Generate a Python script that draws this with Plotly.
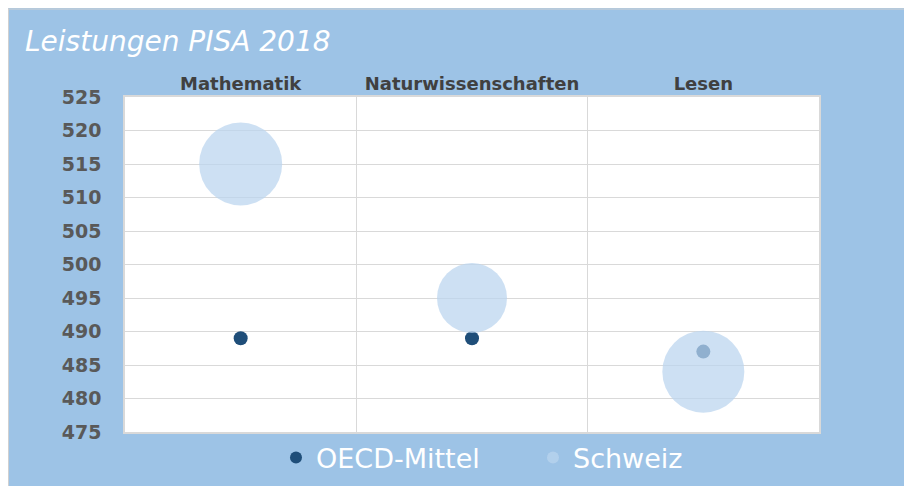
import plotly.graph_objects as go

categories = ["Mathematik", "Naturwissenschaften", "Lesen"]
oecd_values = [489, 489, 487]
schweiz_values = [515, 495, 484]
schweiz_bubble = [83, 70, 82]
y_ticks = [475, 480, 485, 490, 495, 500, 505, 510, 515, 520, 525]

x_pos = [i + 0.5 for i in range(len(categories))]

BLUE = "#9DC3E6"
GRID = "#D9D9D9"

fig = go.Figure()
fig.add_trace(go.Scatter(
    x=x_pos, y=oecd_values, mode="markers", name="OECD-Mittel",
    marker=dict(color="#1F4E79", size=14, opacity=1, line=dict(width=0)),
))
fig.add_trace(go.Scatter(
    x=x_pos, y=schweiz_values, mode="markers", name="Schweiz",
    marker=dict(color="rgba(186,213,238,0.73)", size=schweiz_bubble, opacity=1,
                sizemode="diameter", sizeref=1, line=dict(width=0)),
))
# invisible trace on top axis for category labels
fig.add_trace(go.Scatter(x=x_pos, y=oecd_values, xaxis="x2", mode="markers",
                         marker=dict(opacity=0), showlegend=False, hoverinfo="skip"))

OFF = 8  # page body margin
W, H = 912, 486
L, R, T, B = 117, 101, 89, 60
pw, ph = W - L - R, H - T - B

def px_x(p):
    return (p - OFF - L) / pw

def px_y(p):
    return (H - B - (p - OFF)) / ph

fig.update_layout(
    width=W, height=H,
    margin=dict(l=L, r=R, t=T, b=B),
    paper_bgcolor=BLUE,
    plot_bgcolor="white",
    title=dict(text="Leistungen PISA 2018", xref="container", yref="container",
               x=(25 - OFF) / W, xanchor="left", y=1 - (41 - OFF) / H, yanchor="middle",
               font=dict(family="DejaVu Sans", size=28, color="white", style="italic")),
    xaxis=dict(range=[0, len(categories)], tickvals=[1, 2], showticklabels=False,
               showgrid=True, gridcolor=GRID, gridwidth=1, zeroline=False,
               showline=True, linecolor=GRID, linewidth=1.5, mirror=True, ticks=""),
    xaxis2=dict(range=[0, len(categories)], overlaying="x", side="top",
                tickvals=x_pos, ticktext=categories, showgrid=False, zeroline=False,
                ticks="", ticklabelstandoff=2,
                tickfont=dict(family="DejaVu Sans", size=18, color="#404040", weight="bold")),
    yaxis=dict(range=[475, 525], tickvals=y_ticks, showgrid=True, gridcolor=GRID, gridwidth=1,
               zeroline=False, showline=True, linecolor=GRID, linewidth=1.5, mirror=True,
               ticks="outside", ticklen=18, tickcolor="rgba(0,0,0,0)",
               tickfont=dict(family="DejaVu Sans", size=19, color="#595959", weight="bold")),
    legend=dict(orientation="h", x=px_x(533), xanchor="center", y=px_y(460), yanchor="middle",
                font=dict(family="DejaVu Sans", size=27, color="white"),
                bgcolor="rgba(0,0,0,0)", entrywidth=212, itemsizing="constant"),
    shapes=[
        dict(type="line", xref="paper", yref="paper", x0=px_x(OFF), x1=px_x(W + 20),
             y0=px_y(OFF + 0.5), y1=px_y(OFF + 0.5), line=dict(color="#D0D0D0", width=1), layer="above"),
        dict(type="line", xref="paper", yref="paper", x0=px_x(OFF + 0.5), x1=px_x(OFF + 0.5),
             y0=px_y(OFF), y1=px_y(H + 20), line=dict(color="#D0D0D0", width=1), layer="above"),
    ],
    showlegend=True,
)

fig.write_html("out.html", post_script="document.body.style.overflow='hidden';")
